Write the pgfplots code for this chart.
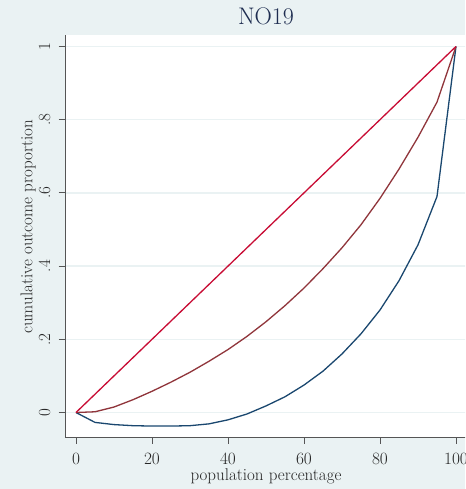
\documentclass[border=0pt]{standalone}
\usepackage{pgfplots}
\pgfplotsset{compat=1.18}
\definecolor{bg}{RGB}{234,242,243}
\definecolor{navy}{RGB}{26,71,111}
\definecolor{maroon}{RGB}{144,53,59}
\definecolor{eqred}{RGB}{200,12,52}
\definecolor{titlecol}{RGB}{30,45,80}
\definecolor{axcol}{RGB}{85,85,85}
\begin{document}
\begin{tikzpicture}
\useasboundingbox (0pt,0pt) rectangle (465pt,489pt);
\fill[bg] (0pt,0pt) rectangle (465pt,489pt);
\clip (0pt,0pt) rectangle (465pt,489pt);
\begin{axis}[
  at={(65pt,52pt)}, anchor=south west,
  scale only axis, width=402pt, height=402pt,
  xmin=-2.895, xmax=102.9, ymin=-0.0669, ymax=1.0314,
  axis background/.style={fill=white},
  axis x line*=bottom, axis y line*=left,
  axis line style={axcol, line width=0.9pt},
  xtick={0,20,40,60,80,100},
  ytick={0,0.2,0.4,0.6,0.8,1},
  yticklabels={0,.2,.4,.6,.8,1},
  ymajorgrids, grid style={color=bg, line width=1.3pt},
  tick align=outside, major tick length=6.5pt,
  tick style={axcol, line width=0.9pt},
  tick label style={font=\fontsize{17}{19}\selectfont, text=black!85},
  xticklabel style={anchor=base, yshift=-20.5pt},
  yticklabel style={xshift=-8.5pt, rotate=90, anchor=base},
  title={NO19},
  title style={font=\fontsize{24}{27}\selectfont, text=titlecol, at={(0.5,1)}, anchor=base, yshift=4pt},
  xlabel={population percentage},
  xlabel style={font=\fontsize{17}{19}\selectfont, text=black!85, at={([yshift=-43pt]axis description cs:0.5,0)}, anchor=base},
  ylabel={cumulative outcome proportion},
  ylabel style={font=\fontsize{17}{19}\selectfont, text=black!85, at={([xshift=-32.5pt,yshift=9pt]axis description cs:0,0.5)}, anchor=base},
  clip=false,
]
\addplot[navy, line width=1.3pt] coordinates {
 (0,0) (5,-0.027) (10,-0.033) (15,-0.036) (20,-0.037) (25,-0.037) (30,-0.036) (35,-0.031) (40,-0.020) (45,-0.004) (50,0.018) (55,0.043) (60,0.075) (65,0.113) (70,0.160) (75,0.215) (80,0.280) (85,0.360) (90,0.458) (95,0.590) (100,1)
};
\addplot[maroon, line width=1.3pt] coordinates {
 (0,0) (5,0.002) (10,0.015) (15,0.035) (20,0.058) (25,0.083) (30,0.110) (35,0.140) (40,0.172) (45,0.208) (50,0.248) (55,0.292) (60,0.340) (65,0.393) (70,0.450) (75,0.513) (80,0.585) (85,0.665) (90,0.752) (95,0.848) (100,1)
};
\addplot[eqred, line width=1.3pt] coordinates {(0,0) (100,1)};
\end{axis}
\end{tikzpicture}
\end{document}
